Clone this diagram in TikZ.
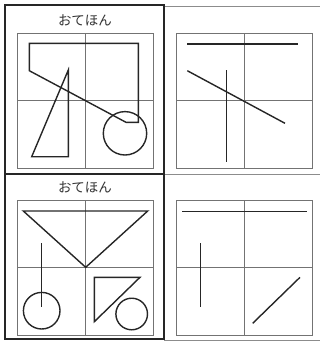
\documentclass[tikz,border=0pt]{standalone}
\usepackage{fontspec}
\newfontfamily\jpfont{Noto Sans CJK JP}
\begin{document}
\begin{tikzpicture}[x=1pt,y=-1pt,
  grid/.style={draw=black!55,line width=0.9pt},
  frame/.style={draw=black!85,line width=2pt},
  outer/.style={draw=black!45,line width=0.9pt},
  fig/.style={draw=black!85,line width=1.4pt,line join=miter},
  title/.style={font=\jpfont\fontsize{13.5}{13.5}\selectfont,text=black!80,inner sep=0pt}]
\useasboundingbox (0,0) rectangle (320,341);
% outer thin lines of the right column
\draw[outer] (164,6.5) -- (320,6.5);
\draw[outer] (164,174) -- (320,174);
\draw[outer] (164,340) -- (320,340);
% grids
\foreach \gx/\gy/\n in {17/33/a,176/33/b,17/200/c,176/200/d}{
  \draw[grid] (\gx,\gy) rectangle ++(136,135.5);
  \draw[grid] (\gx+68,\gy) -- ++(0,135.5);
  \draw[grid] (\gx,\gy+67.8) -- ++(136,0);
}
% thick frames of the left column
\draw[frame] (5,5) rectangle (164,174);
\draw[frame] (5,174) rectangle (164,339);
% titles
\node[title] (t1) at (85,20) {おてほん};
\node[title] (t2) at (85,187.5) {おてほん};
% top-left model
\draw[fig] (29.3,43.3) -- (138.3,43.3) -- (138.3,122.3) -- (126,122.3) -- (29.3,70.7) -- cycle;
\draw[fig] (68.3,70) -- (68.3,156.7) -- (31.7,156.7) -- cycle;
\draw[fig] (125,133.3) circle (21.7);
% top-right copy
\draw[fig] (187.3,44) -- (297.7,44);
\draw[fig] (226.7,70) -- (226.7,161.7);
\draw[fig] (187.3,70.7) -- (285,123.3);
% bottom-left model
\draw[fig] (23.3,211) -- (147.7,211) -- (85.7,267.3) -- cycle;
\draw[fig] (41.7,243.3) -- (41.7,306.7);
\draw[fig] (41.7,310.7) circle (18.3);
\draw[fig] (94.3,277.3) -- (140,277.3) -- (94.3,321.7) -- cycle;
\draw[fig] (131.7,314) circle (15.8);
% bottom-right copy
\draw[fig] (182.3,211.3) -- (306.7,211.3);
\draw[fig] (200.3,243.3) -- (200.3,306.7);
\draw[fig] (300,277.3) -- (252.7,323.3);
\end{tikzpicture}
\end{document}
